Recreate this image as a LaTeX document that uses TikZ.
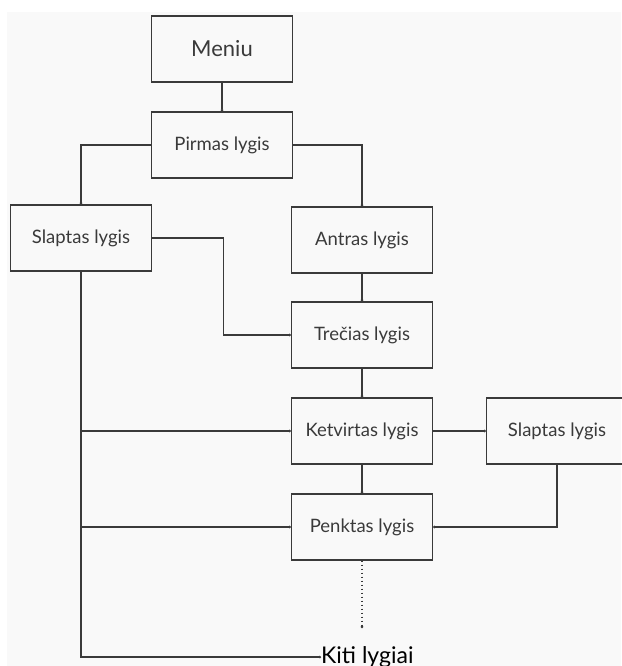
\documentclass[tikz,border=0pt]{standalone}
\usepackage{fontspec}
\setmainfont{Lato}
\usetikzlibrary{arrows.meta}
\definecolor{LVtekstas}{HTML}{3A3A3A}
\definecolor{LVfonas}{HTML}{F9F9F9}
\begin{document}
\begin{tikzpicture}[x=1pt,y=-1pt,font=\fontsize{18.5}{20}\selectfont,
  lvl/.style={draw=LVtekstas,line width=1.4pt,minimum width=141pt,minimum height=66pt,inner sep=0pt,text=LVtekstas},
  jung/.style={LVtekstas,line width=1.2pt,-{Circle[length=2.4pt]}}]
\useasboundingbox (0,0) rectangle (621,666);
\fill[LVfonas] (7,12) rectangle (621,666);
\node[lvl,font=\fontsize{22}{24}\selectfont] (meniu) at (222,49) {Meniu};
\foreach \name/\x/\y/\lab in {pirmas/222/145/Pirmas lygis,slaptasA/81/238/Slaptas lygis,antras/362/240/Antras lygis,
  trecias/362/335/Trečias lygis,ketvirtas/362/431/Ketvirtas lygis,slaptasB/557/431/Slaptas lygis,penktas/362/527/Penktas lygis}{
  \node[lvl] (\name) at (\x,\y) {\lab};
}
\node[text=black,anchor=west,inner sep=0pt,font=\fontsize{23}{25}\selectfont] (kiti) at (321,657) {Kiti lygiai};
\coordinate (tolesni) at (362,628);
\draw[jung] (meniu) -- (pirmas);
\draw[jung] (pirmas.west) -| (slaptasA.north);
\draw[jung] (pirmas.east) -| (antras.north);
\draw[jung] (slaptasA.east) -- ++(71,0) |- (trecias.west);
\draw[jung] (antras) -- (trecias);
\draw[jung] (trecias) -- (ketvirtas);
\draw[jung] (ketvirtas) -- (slaptasB);
\draw[jung] (ketvirtas) -- (penktas);
\draw[jung] (slaptasB.south) |- (penktas.east);
\draw[jung] (slaptasA.south) |- (kiti.west);
\draw[jung] (slaptasA.south |- ketvirtas.west) -- (ketvirtas.west);
\draw[jung] (slaptasA.south |- penktas.west) -- (penktas.west);
\draw[jung,dash pattern=on 1.5pt off 2.5pt] (penktas.south) -- (tolesni);
\end{tikzpicture}
\end{document}
